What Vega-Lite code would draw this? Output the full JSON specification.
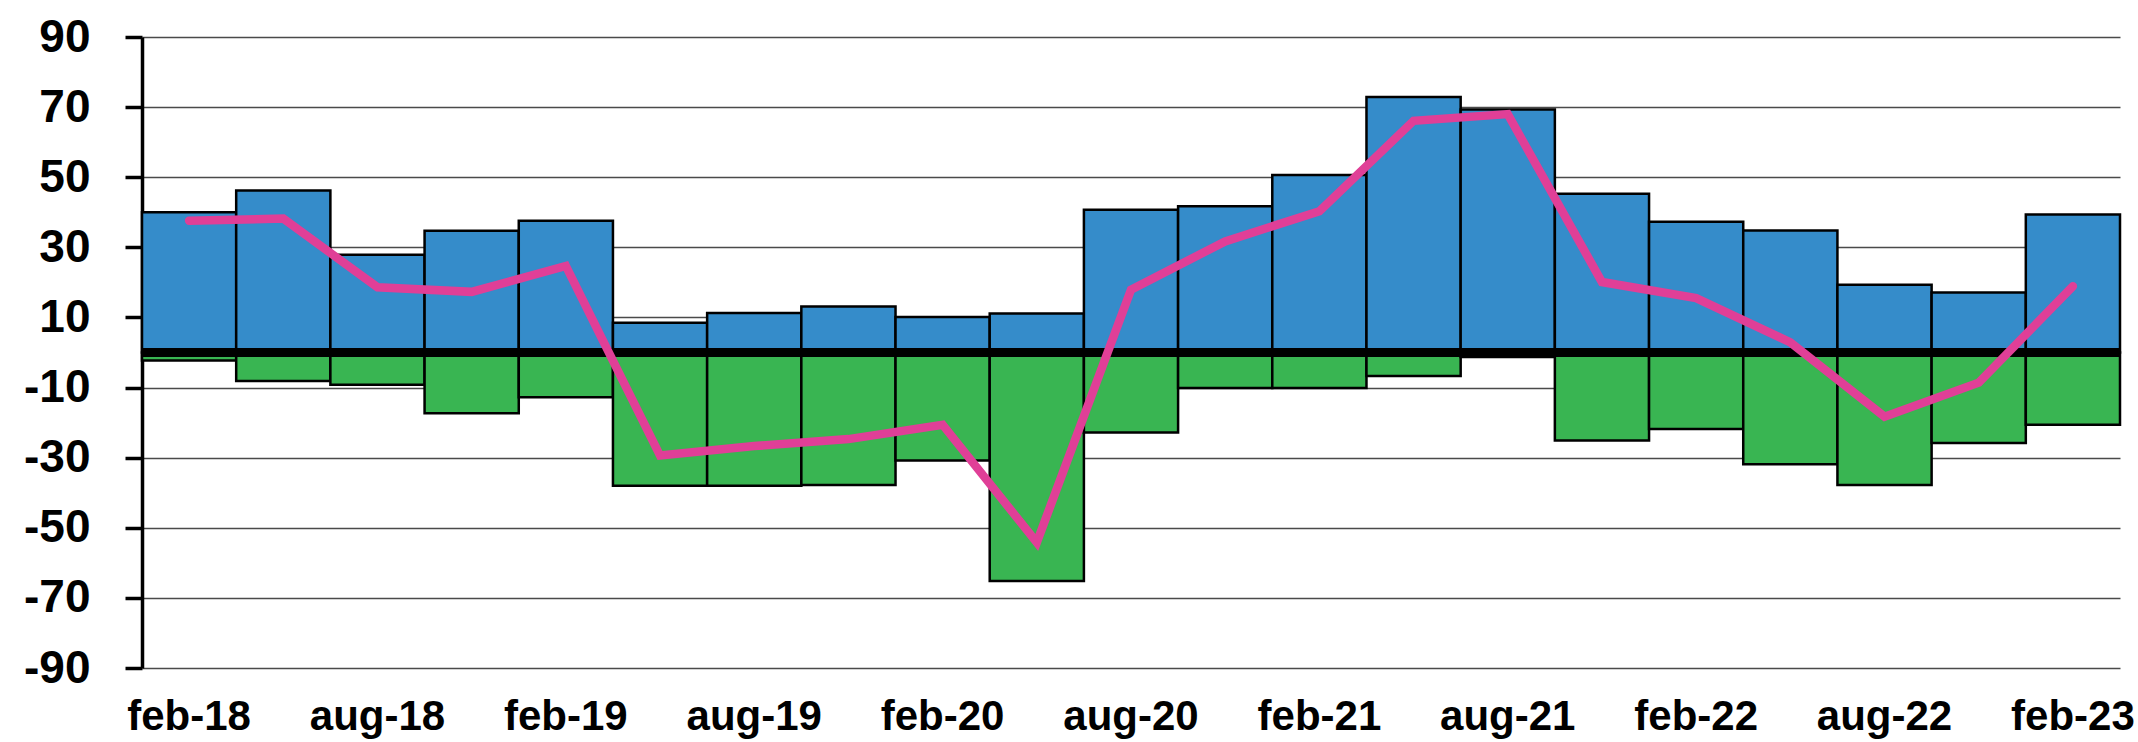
{
  "$schema": "https://vega.github.io/schema/vega-lite/v6.json",
  "width": 1978,
  "height": 631,
  "autosize": {"type": "none"},
  "padding": {"left": 142, "top": 37, "right": 18, "bottom": 74},
  "background": "white",
  "config": {
    "view": {"stroke": null},
    "font": "Liberation Sans"
  },
  "data": {
    "values": [
      {"period": "feb-18", "pos": 40.0, "neg": -2.3, "net": 37.6},
      {"period": "maj-18", "pos": 46.2, "neg": -8.1, "net": 38.2},
      {"period": "aug-18", "pos": 27.9, "neg": -9.2, "net": 18.6},
      {"period": "nov-18", "pos": 34.7, "neg": -17.3, "net": 17.3},
      {"period": "feb-19", "pos": 37.6, "neg": -12.8, "net": 24.7},
      {"period": "maj-19", "pos": 8.5, "neg": -38.0, "net": -29.4},
      {"period": "aug-19", "pos": 11.3, "neg": -38.0, "net": -26.7},
      {"period": "nov-19", "pos": 13.1, "neg": -37.8, "net": -24.7},
      {"period": "feb-20", "pos": 10.1, "neg": -30.8, "net": -20.6},
      {"period": "maj-20", "pos": 11.1, "neg": -65.2, "net": -54.2},
      {"period": "aug-20", "pos": 40.7, "neg": -22.8, "net": 17.9},
      {"period": "nov-20", "pos": 41.7, "neg": -10.1, "net": 31.7},
      {"period": "feb-21", "pos": 50.6, "neg": -10.1, "net": 40.3},
      {"period": "maj-21", "pos": 72.9, "neg": -6.7, "net": 66.1},
      {"period": "aug-21", "pos": 69.3, "neg": -1.3, "net": 68.0},
      {"period": "nov-21", "pos": 45.3, "neg": -25.1, "net": 20.1},
      {"period": "feb-22", "pos": 37.3, "neg": -21.8, "net": 15.5},
      {"period": "maj-22", "pos": 34.8, "neg": -31.9, "net": 2.9},
      {"period": "aug-22", "pos": 19.3, "neg": -37.8, "net": -18.3},
      {"period": "nov-22", "pos": 17.1, "neg": -25.8, "net": -8.6},
      {"period": "feb-23", "pos": 39.4, "neg": -20.6, "net": 18.9}
    ]
  },
  "layer": [
    {
      "mark": {"type": "bar", "color": "#358CCA", "stroke": "black", "strokeWidth": 2.5},
      "encoding": {
        "x": {
          "field": "period",
          "type": "ordinal",
          "sort": null,
          "scale": {"paddingInner": 0, "paddingOuter": 0},
          "axis": {
            "title": null,
            "values": ["feb-18", "aug-18", "feb-19", "aug-19", "feb-20", "aug-20", "feb-21", "aug-21", "feb-22", "aug-22", "feb-23"],
            "labelAngle": 0,
            "labelFont": "Liberation Sans",
            "labelFontWeight": "bold",
            "labelFontSize": 42,
            "labelColor": "black",
            "labelPadding": 28,
            "labelBaseline": "top",
            "domain": false,
            "ticks": false,
            "grid": false
          }
        },
        "y": {
          "field": "pos",
          "type": "quantitative",
          "scale": {"domain": [-90, 90], "nice": false, "zero": false},
          "axis": {
            "title": null,
            "values": [-90, -70, -50, -30, -10, 10, 30, 50, 70, 90],
            "labelExpr": "(datum.value < 0 ? '-' : '') + abs(datum.value)",
            "labelFont": "Liberation Sans",
            "labelFontWeight": "bold",
            "labelFontSize": 46,
            "labelColor": "black",
            "labelPadding": 35,
            "tickSize": 17,
            "tickWidth": 3.5,
            "tickColor": "black",
            "domainColor": "black",
            "domainWidth": 3.5,
            "grid": true,
            "gridColor": "#4a4a4a",
            "gridWidth": 1.5
          }
        },
        "y2": {"datum": 0}
      }
    },
    {
      "mark": {"type": "bar", "color": "#39B552", "stroke": "black", "strokeWidth": 2.5},
      "encoding": {
        "x": {"field": "period", "type": "ordinal", "sort": null},
        "y": {"field": "neg", "type": "quantitative"},
        "y2": {"datum": 0}
      }
    },
    {
      "mark": {"type": "rule", "color": "black", "strokeWidth": 7.5},
      "encoding": {"y": {"datum": 0}}
    },
    {
      "mark": {"type": "line", "color": "#E03F97", "strokeWidth": 8.5, "strokeJoin": "miter", "strokeCap": "round"},
      "encoding": {
        "x": {"field": "period", "type": "ordinal", "sort": null},
        "y": {"field": "net", "type": "quantitative"}
      }
    }
  ]
}
